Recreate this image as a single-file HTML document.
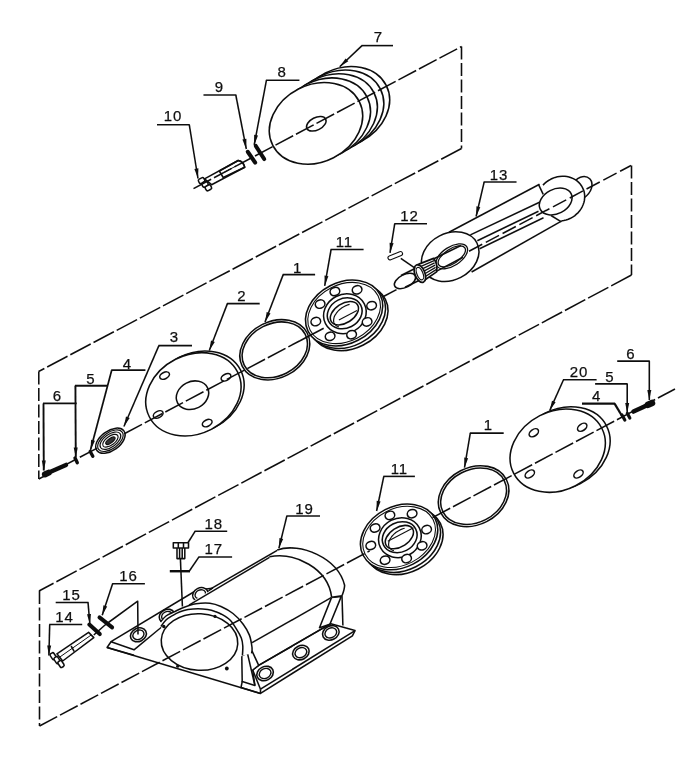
<!DOCTYPE html>
<html><head><meta charset="utf-8"><title>Exploded view</title>
<style>
html,body{margin:0;padding:0;background:#fff;}
body{width:694px;height:763px;overflow:hidden;font-family:"Liberation Sans",sans-serif;}
svg{display:block}
svg *{vector-effect:none}
</style></head><body>
<svg width="694" height="763" viewBox="0 0 694 763" font-family="Liberation Sans, sans-serif" stroke="#111" fill="none" stroke-linecap="butt" stroke-linejoin="round">
<defs><filter id="soft" x="0" y="0" width="100%" height="100%" filterUnits="userSpaceOnUse"><feGaussianBlur stdDeviation="0.45"/></filter></defs>
<rect x="0" y="0" width="694" height="763" fill="#fff" stroke="none"/>
<g filter="url(#soft)">
<ellipse cx="343.0" cy="107.4" rx="48.5" ry="38.6" transform="rotate(-27 343.0 107.4)" stroke-width="1.55" fill="#fff"/>
<ellipse cx="337.1" cy="110.9" rx="48.5" ry="38.6" transform="rotate(-27 337.1 110.9)" stroke-width="1.55" fill="#fff"/>
<ellipse cx="330.7" cy="114.7" rx="48.5" ry="38.6" transform="rotate(-27 330.7 114.7)" stroke-width="1.55" fill="#fff"/>
<ellipse cx="323.8" cy="118.8" rx="48.5" ry="38.6" transform="rotate(-27 323.8 118.8)" stroke-width="1.55" fill="#fff"/>
<ellipse cx="316.0" cy="123.4" rx="48.5" ry="38.6" transform="rotate(-27 316.0 123.4)" stroke-width="1.55" fill="#fff"/>
<ellipse cx="316.3" cy="123.8" rx="10.5" ry="6.2" transform="rotate(-27 316.3 123.8)" stroke-width="1.55" fill="none"/>
<line x1="247.8" y1="151.8" x2="255.2" y2="162.6" stroke-width="4.1" stroke-linecap="round"/>
<line x1="255.8" y1="146.0" x2="264.2" y2="159.0" stroke-width="4.1" stroke-linecap="round"/>
<path d="M204.5 178.9 L238.2 160.5 Q243.5 161.5 244.7 167.2 L211.6 184.7 Z" stroke-width="1.55" fill="#fff" />
<path d="M219.4 171.1 L238.2 160.5 Q243.5 161.5 244.7 167.2 L223.3 177.6 Z" stroke-width="1.7" fill="none" />
<line x1="224.0" y1="172.5" x2="236.0" y2="166.0" stroke-width="1.0" stroke-linecap="butt"/>
<rect x="198.6" y="178.2" width="6" height="4.8" rx="1.6" transform="rotate(-29 201.6 180.6)" fill="#fff" stroke-width="1.55"/>
<rect x="202.0" y="181.8" width="6" height="4.8" rx="1.6" transform="rotate(-29 205.0 184.2)" fill="#fff" stroke-width="1.55"/>
<rect x="205.4" y="185.4" width="6" height="4.8" rx="1.6" transform="rotate(-29 208.4 187.8)" fill="#fff" stroke-width="1.55"/>
<line x1="157.0" y1="124.8" x2="189.8" y2="124.8" stroke-width="1.55" stroke-linecap="butt"/>
<line x1="189.3" y1="124.8" x2="198.0" y2="178.5" stroke-width="1.55" stroke-linecap="butt"/>
<polygon points="198.0,178.5 194.4,168.9 198.4,168.3" fill="#111" stroke="none"/>
<text x="163.7" y="121.3" font-size="15" letter-spacing="0.9" stroke="#111" stroke-width="0.25" fill="#111">10</text>
<line x1="203.5" y1="95.0" x2="236.3" y2="95.0" stroke-width="1.55" stroke-linecap="butt"/>
<line x1="235.8" y1="95.0" x2="246.3" y2="149.0" stroke-width="1.55" stroke-linecap="butt"/>
<polygon points="246.3,149.0 242.4,139.6 246.4,138.8" fill="#111" stroke="none"/>
<text x="214.7" y="91.8" font-size="15" stroke="#111" stroke-width="0.25" fill="#111">9</text>
<line x1="265.9" y1="80.3" x2="299.4" y2="80.3" stroke-width="1.55" stroke-linecap="butt"/>
<line x1="266.4" y1="80.3" x2="254.2" y2="145.0" stroke-width="1.55" stroke-linecap="butt"/>
<polygon points="254.2,145.0 254.1,134.8 258.0,135.5" fill="#111" stroke="none"/>
<text x="277.5" y="77.3" font-size="15" stroke="#111" stroke-width="0.25" fill="#111">8</text>
<line x1="361.5" y1="45.6" x2="393.0" y2="45.6" stroke-width="1.55" stroke-linecap="butt"/>
<line x1="362.0" y1="45.6" x2="339.7" y2="66.7" stroke-width="1.55" stroke-linecap="butt"/>
<polygon points="339.7,66.7 345.6,58.4 348.3,61.3" fill="#111" stroke="none"/>
<text x="373.7" y="42.0" font-size="15" stroke="#111" stroke-width="0.25" fill="#111">7</text>
<ellipse cx="196.5" cy="392.6" rx="49.5" ry="39.3" transform="rotate(-27 196.5 392.6)" stroke-width="1.55" fill="#fff"/>
<ellipse cx="193.4" cy="394.3" rx="49.5" ry="39.3" transform="rotate(-27 193.4 394.3)" stroke-width="1.55" fill="#fff"/>
<ellipse cx="192.5" cy="395.2" rx="16.8" ry="13.6" transform="rotate(-27 192.5 395.2)" stroke-width="1.55" fill="none"/>
<ellipse cx="164.6" cy="375.6" rx="5.2" ry="3.2" transform="rotate(-27 164.6 375.6)" stroke-width="1.55" fill="none"/>
<ellipse cx="226.0" cy="377.3" rx="5.2" ry="3.2" transform="rotate(-27 226.0 377.3)" stroke-width="1.55" fill="none"/>
<ellipse cx="158.2" cy="414.5" rx="5.2" ry="3.2" transform="rotate(-27 158.2 414.5)" stroke-width="1.55" fill="none"/>
<ellipse cx="207.2" cy="423.1" rx="5.2" ry="3.2" transform="rotate(-27 207.2 423.1)" stroke-width="1.55" fill="none"/>
<ellipse cx="274.8" cy="349.8" rx="36.5" ry="28.2" transform="rotate(-27 274.8 349.8)" stroke-width="1.55" fill="none"/>
<ellipse cx="274.8" cy="349.8" rx="34.2" ry="26.0" transform="rotate(-27 274.8 349.8)" stroke-width="1.55" fill="none"/>
<ellipse cx="110.4" cy="440.7" rx="16.7" ry="9.8" transform="rotate(-36 110.4 440.7)" stroke-width="1.5" fill="#fff"/>
<ellipse cx="110.4" cy="440.7" rx="14.6" ry="8.1" transform="rotate(-36 110.4 440.7)" stroke-width="1.2" fill="#fff"/>
<ellipse cx="110.4" cy="440.7" rx="12.0" ry="6.3" transform="rotate(-36 110.4 440.7)" stroke-width="1.2" fill="#fff"/>
<ellipse cx="110.4" cy="440.7" rx="9.0" ry="4.4" transform="rotate(-36 110.4 440.7)" stroke-width="1.2" fill="#fff"/>
<ellipse cx="110.4" cy="440.7" rx="5.5" ry="2.2" transform="rotate(-36 110.4 440.7)" stroke-width="1.2" fill="#333"/>
<line x1="46.0" y1="473.8" x2="66.0" y2="464.9" stroke-width="4.4" stroke-linecap="round"/>
<line x1="45.0" y1="474.4" x2="48.5" y2="472.8" stroke-width="6.2" stroke-linecap="round"/>
<line x1="75.0" y1="458.0" x2="77.3" y2="462.8" stroke-width="3.4" stroke-linecap="round"/>
<line x1="90.2" y1="451.5" x2="92.8" y2="456.2" stroke-width="3.4" stroke-linecap="round"/>
<line x1="43.0" y1="403.4" x2="76.7" y2="403.4" stroke-width="1.9" stroke-linecap="butt"/>
<line x1="43.5" y1="403.4" x2="43.8" y2="470.5" stroke-width="1.9" stroke-linecap="butt"/>
<polygon points="43.8,470.5 41.8,460.5 45.8,460.5" fill="#111" stroke="none"/>
<text x="52.7" y="400.5" font-size="15" stroke="#111" stroke-width="0.25" fill="#111">6</text>
<line x1="74.9" y1="385.8" x2="107.8" y2="385.8" stroke-width="1.9" stroke-linecap="butt"/>
<line x1="75.4" y1="385.8" x2="75.8" y2="457.5" stroke-width="1.9" stroke-linecap="butt"/>
<polygon points="75.8,457.5 73.7,447.5 77.7,447.5" fill="#111" stroke="none"/>
<text x="86.2" y="384.3" font-size="15" stroke="#111" stroke-width="0.25" fill="#111">5</text>
<line x1="111.2" y1="370.2" x2="145.4" y2="370.2" stroke-width="1.7" stroke-linecap="butt"/>
<line x1="111.7" y1="370.2" x2="90.5" y2="450.0" stroke-width="1.7" stroke-linecap="butt"/>
<polygon points="90.5,450.0 91.1,439.8 95.0,440.8" fill="#111" stroke="none"/>
<text x="122.7" y="368.8" font-size="15" stroke="#111" stroke-width="0.25" fill="#111">4</text>
<line x1="158.4" y1="345.6" x2="192.0" y2="345.6" stroke-width="1.55" stroke-linecap="butt"/>
<line x1="158.9" y1="345.6" x2="123.9" y2="426.5" stroke-width="1.55" stroke-linecap="butt"/>
<polygon points="123.9,426.5 126.0,416.5 129.7,418.1" fill="#111" stroke="none"/>
<text x="169.7" y="342.3" font-size="15" stroke="#111" stroke-width="0.25" fill="#111">3</text>
<line x1="226.9" y1="303.6" x2="259.7" y2="303.6" stroke-width="1.55" stroke-linecap="butt"/>
<line x1="227.4" y1="303.6" x2="209.3" y2="350.5" stroke-width="1.55" stroke-linecap="butt"/>
<polygon points="209.3,350.5 211.0,340.5 214.8,341.9" fill="#111" stroke="none"/>
<text x="237.2" y="301.3" font-size="15" stroke="#111" stroke-width="0.25" fill="#111">2</text>
<line x1="282.7" y1="274.6" x2="315.1" y2="274.6" stroke-width="1.55" stroke-linecap="butt"/>
<line x1="283.2" y1="274.6" x2="265.0" y2="322.0" stroke-width="1.55" stroke-linecap="butt"/>
<polygon points="265.0,322.0 266.7,311.9 270.5,313.4" fill="#111" stroke="none"/>
<text x="293.0" y="272.6" font-size="15" stroke="#111" stroke-width="0.25" fill="#111">1</text>
<line x1="330.6" y1="249.5" x2="363.6" y2="249.5" stroke-width="1.55" stroke-linecap="butt"/>
<line x1="331.1" y1="249.5" x2="324.7" y2="285.8" stroke-width="1.55" stroke-linecap="butt"/>
<polygon points="324.7,285.8 324.5,275.6 328.4,276.3" fill="#111" stroke="none"/>
<text x="335.7" y="247.4" font-size="15" letter-spacing="0.9" stroke="#111" stroke-width="0.25" fill="#111">11</text>
<ellipse cx="349.4" cy="317.8" rx="40.4" ry="30.6" transform="rotate(-27 349.4 317.8)" stroke-width="1.55" fill="#fff"/>
<ellipse cx="346.9" cy="315.6" rx="40.4" ry="30.6" transform="rotate(-27 346.9 315.6)" stroke-width="1.55" fill="#fff"/>
<ellipse cx="344.1" cy="313.0" rx="40.4" ry="30.6" transform="rotate(-27 344.1 313.0)" stroke-width="1.55" fill="#fff"/>
<ellipse cx="344.1" cy="313.0" rx="38.1" ry="28.3" transform="rotate(-27 344.1 313.0)" stroke-width="1.1" fill="none"/>
<ellipse cx="344.9" cy="313.8" rx="21.8" ry="19.4" transform="rotate(-27 344.9 313.8)" stroke-width="1.55" fill="none"/>
<ellipse cx="344.7" cy="313.3" rx="18.0" ry="14.8" transform="rotate(-27 344.7 313.3)" stroke-width="1.55" fill="none"/>
<ellipse cx="344.4" cy="313.2" rx="15.6" ry="9.6" transform="rotate(-33 344.4 313.2)" stroke-width="1.55" fill="none"/>
<polyline points="338.9,326.8 338.2,326.6 337.6,326.3 337.0,326.1 336.4,325.7 335.9,325.3 335.4,324.9 335.0,324.4 334.6,323.9 334.3,323.4 334.0,322.8 333.8,322.2 333.7,321.6 333.6,320.9 333.6,320.3 333.7,319.5 333.8,318.8 333.9,318.1 334.1,317.3 334.4,316.6 334.7,315.8 335.1,315.1 335.6,314.3 336.1,313.6 336.6,312.8 337.2,312.1 337.8,311.4 338.5,310.7 339.2,310.0 340.0,309.3 340.8,308.7 341.6,308.1 342.4,307.5 343.3,307.0 344.2,306.5 345.1,306.0 346.0,305.6 346.9,305.2 347.8,304.9 348.7,304.6 349.6,304.4" stroke-width="1.2" fill="none"/>
<ellipse cx="334.9" cy="291.5" rx="4.9" ry="4.1" transform="rotate(-20 334.9 291.5)" stroke-width="1.55" fill="#fff"/>
<ellipse cx="357.1" cy="289.8" rx="4.9" ry="4.1" transform="rotate(-20 357.1 289.8)" stroke-width="1.55" fill="#fff"/>
<ellipse cx="320.1" cy="304.1" rx="4.9" ry="4.1" transform="rotate(-20 320.1 304.1)" stroke-width="1.55" fill="#fff"/>
<ellipse cx="371.6" cy="305.7" rx="4.9" ry="4.1" transform="rotate(-20 371.6 305.7)" stroke-width="1.55" fill="#fff"/>
<ellipse cx="315.8" cy="321.6" rx="4.9" ry="4.1" transform="rotate(-20 315.8 321.6)" stroke-width="1.55" fill="#fff"/>
<ellipse cx="367.1" cy="321.9" rx="4.9" ry="4.1" transform="rotate(-20 367.1 321.9)" stroke-width="1.55" fill="#fff"/>
<ellipse cx="330.1" cy="336.3" rx="4.9" ry="4.1" transform="rotate(-20 330.1 336.3)" stroke-width="1.55" fill="#fff"/>
<ellipse cx="351.6" cy="334.7" rx="4.9" ry="4.1" transform="rotate(-20 351.6 334.7)" stroke-width="1.55" fill="#fff"/>
<path d="M573 186 C575 177 585 174 590 179 C594 184 592 192 584 198" stroke-width="1.55" fill="#fff" />
<path d="M449 232.2 L539.5 184.3 L561.4 221.1 L471.6 272 Z" stroke-width="1.55" fill="#fff" stroke="none"/>
<ellipse cx="560.7" cy="198.7" rx="24.5" ry="21.9" transform="rotate(-27 560.7 198.7)" fill="#fff" stroke="none"/>
<polyline points="543.0,185.1 544.7,183.4 546.5,181.8 548.5,180.5 550.6,179.3 552.8,178.3 555.1,177.4 557.4,176.8 559.7,176.4 562.1,176.3 564.5,176.3 566.8,176.5 569.0,177.0 571.2,177.7 573.3,178.6 575.2,179.7 577.0,180.9 578.7,182.4 580.2,184.0 581.4,185.7 582.5,187.6 583.4,189.6 584.1,191.6 584.5,193.7 584.7,195.9 584.6,198.1 584.4,200.4 583.9,202.5 583.1,204.7 582.2,206.8 581.0,208.8 579.7,210.8 578.2,212.6 576.4,214.2 574.6,215.8 572.6,217.1 570.5,218.3 568.3,219.3 566.0,220.1 563.7,220.6 561.3,221.0" stroke-width="1.55" fill="none"/>
<ellipse cx="555.7" cy="201.5" rx="17.3" ry="12.2" transform="rotate(-27 555.7 201.5)" stroke-width="1.55" fill="none"/>
<line x1="449.0" y1="232.2" x2="539.5" y2="184.3" stroke-width="1.55" stroke-linecap="butt"/>
<line x1="471.6" y1="272.0" x2="561.4" y2="221.1" stroke-width="1.55" stroke-linecap="butt"/>
<line x1="470.4" y1="234.9" x2="539.5" y2="202.2" stroke-width="1.55" stroke-linecap="butt"/>
<line x1="477.3" y1="240.7" x2="538.5" y2="211.3" stroke-width="1.55" stroke-linecap="butt"/>
<line x1="479.6" y1="248.8" x2="543.5" y2="217.8" stroke-width="1.55" stroke-linecap="butt"/>
<line x1="538.6" y1="184.6" x2="543.2" y2="194.3" stroke-width="1.55" stroke-linecap="butt"/>
<line x1="551.0" y1="215.5" x2="561.4" y2="221.8" stroke-width="1.55" stroke-linecap="butt"/>
<ellipse cx="450.2" cy="256.6" rx="30.0" ry="23.3" transform="rotate(-27 450.2 256.6)" stroke-width="1.55" fill="#fff"/>
<ellipse cx="451.8" cy="256.3" rx="17.8" ry="9.4" transform="rotate(-33 451.8 256.3)" stroke-width="1.3" fill="none"/>
<ellipse cx="451.8" cy="256.3" rx="15.6" ry="7.3" transform="rotate(-33 451.8 256.3)" stroke-width="1.3" fill="none"/>
<line x1="431.9" y1="259.8" x2="461.0" y2="245.5" stroke-width="1.55" stroke-linecap="butt"/>
<line x1="435.3" y1="271.9" x2="463.0" y2="257.2" stroke-width="1.55" stroke-linecap="butt"/>
<ellipse cx="405.0" cy="281.0" rx="11.5" ry="6.3" transform="rotate(-27 405.0 281.0)" stroke-width="1.55" fill="#fff"/>
<line x1="405.0" y1="287.2" x2="421.0" y2="279.5" stroke-width="1.55" stroke-linecap="butt"/>
<line x1="401.0" y1="275.5" x2="416.0" y2="268.0" stroke-width="1.55" stroke-linecap="butt"/>
<path d="M418.9 264.1 L433.6 258.4 Q438 264 436.6 271.9 L421.5 282.2 Z" stroke-width="1.7" fill="#fff" />
<line x1="419.3" y1="267.1" x2="434.1" y2="260.6" stroke-width="1.25" stroke-linecap="butt"/>
<line x1="419.8" y1="270.1" x2="434.6" y2="262.9" stroke-width="1.25" stroke-linecap="butt"/>
<line x1="420.2" y1="273.1" x2="435.1" y2="265.1" stroke-width="1.25" stroke-linecap="butt"/>
<line x1="420.6" y1="276.2" x2="435.6" y2="267.4" stroke-width="1.25" stroke-linecap="butt"/>
<line x1="421.1" y1="279.2" x2="436.1" y2="269.6" stroke-width="1.25" stroke-linecap="butt"/>
<ellipse cx="419.9" cy="273.6" rx="9.3" ry="5.0" transform="rotate(68 419.9 273.6)" stroke-width="1.8" fill="#fff"/>
<ellipse cx="419.9" cy="273.6" rx="6.6" ry="3.0" transform="rotate(68 419.9 273.6)" stroke-width="1.2" fill="none"/>
<line x1="390.0" y1="257.8" x2="400.5" y2="253.6" stroke-width="5.2" stroke-linecap="round"/>
<line x1="390" y1="257.8" x2="400.5" y2="253.6" stroke="#fff" stroke-width="3" stroke-linecap="round"/>
<line x1="400.8" y1="258.4" x2="415.4" y2="268.4" stroke-width="1.55" stroke-linecap="butt"/>
<line x1="394.2" y1="223.8" x2="427.0" y2="223.8" stroke-width="1.55" stroke-linecap="butt"/>
<line x1="394.7" y1="223.8" x2="390.0" y2="252.9" stroke-width="1.55" stroke-linecap="butt"/>
<polygon points="390.0,252.9 389.6,242.7 393.6,243.3" fill="#111" stroke="none"/>
<text x="400.2" y="221.0" font-size="15" letter-spacing="0.9" stroke="#111" stroke-width="0.25" fill="#111">12</text>
<line x1="483.7" y1="181.9" x2="516.5" y2="181.9" stroke-width="1.55" stroke-linecap="butt"/>
<line x1="484.2" y1="181.9" x2="476.1" y2="216.5" stroke-width="1.55" stroke-linecap="butt"/>
<polygon points="476.1,216.5 476.4,206.3 480.3,207.2" fill="#111" stroke="none"/>
<text x="489.7" y="179.6" font-size="15" letter-spacing="0.9" stroke="#111" stroke-width="0.25" fill="#111">13</text>
<ellipse cx="562.5" cy="448.5" rx="49.5" ry="39.3" transform="rotate(-27 562.5 448.5)" stroke-width="1.55" fill="#fff"/>
<ellipse cx="557.7" cy="450.7" rx="49.5" ry="39.3" transform="rotate(-27 557.7 450.7)" stroke-width="1.55" fill="#fff"/>
<ellipse cx="533.8" cy="432.8" rx="5.2" ry="3.3" transform="rotate(-35 533.8 432.8)" stroke-width="1.55" fill="none"/>
<ellipse cx="582.2" cy="427.3" rx="5.2" ry="3.3" transform="rotate(-35 582.2 427.3)" stroke-width="1.55" fill="none"/>
<ellipse cx="529.8" cy="474.0" rx="5.2" ry="3.3" transform="rotate(-35 529.8 474.0)" stroke-width="1.55" fill="none"/>
<ellipse cx="578.5" cy="474.0" rx="5.2" ry="3.3" transform="rotate(-35 578.5 474.0)" stroke-width="1.55" fill="none"/>
<ellipse cx="473.6" cy="496.2" rx="36.8" ry="28.6" transform="rotate(-27 473.6 496.2)" stroke-width="1.55" fill="none"/>
<ellipse cx="473.6" cy="496.2" rx="34.4" ry="26.3" transform="rotate(-27 473.6 496.2)" stroke-width="1.55" fill="none"/>
<ellipse cx="404.4" cy="541.7" rx="40.4" ry="30.6" transform="rotate(-27 404.4 541.7)" stroke-width="1.55" fill="#fff"/>
<ellipse cx="401.9" cy="539.5" rx="40.4" ry="30.6" transform="rotate(-27 401.9 539.5)" stroke-width="1.55" fill="#fff"/>
<ellipse cx="399.1" cy="536.9" rx="40.4" ry="30.6" transform="rotate(-27 399.1 536.9)" stroke-width="1.55" fill="#fff"/>
<ellipse cx="399.1" cy="536.9" rx="38.1" ry="28.3" transform="rotate(-27 399.1 536.9)" stroke-width="1.1" fill="none"/>
<ellipse cx="399.9" cy="537.7" rx="21.8" ry="19.4" transform="rotate(-27 399.9 537.7)" stroke-width="1.55" fill="none"/>
<ellipse cx="399.7" cy="537.2" rx="18.0" ry="14.8" transform="rotate(-27 399.7 537.2)" stroke-width="1.55" fill="none"/>
<ellipse cx="399.4" cy="537.1" rx="15.6" ry="9.6" transform="rotate(-33 399.4 537.1)" stroke-width="1.55" fill="none"/>
<polyline points="393.9,550.7 393.2,550.5 392.6,550.2 392.0,550.0 391.4,549.6 390.9,549.2 390.4,548.8 390.0,548.3 389.6,547.8 389.3,547.3 389.0,546.7 388.8,546.1 388.7,545.5 388.6,544.8 388.6,544.2 388.7,543.4 388.8,542.7 388.9,542.0 389.1,541.2 389.4,540.5 389.7,539.7 390.1,539.0 390.6,538.2 391.1,537.5 391.6,536.7 392.2,536.0 392.8,535.3 393.5,534.6 394.2,533.9 395.0,533.2 395.8,532.6 396.6,532.0 397.4,531.4 398.3,530.9 399.2,530.4 400.1,529.9 401.0,529.5 401.9,529.1 402.8,528.8 403.7,528.5 404.6,528.3" stroke-width="1.2" fill="none"/>
<ellipse cx="389.9" cy="515.4" rx="4.9" ry="4.1" transform="rotate(-20 389.9 515.4)" stroke-width="1.55" fill="#fff"/>
<ellipse cx="412.1" cy="513.7" rx="4.9" ry="4.1" transform="rotate(-20 412.1 513.7)" stroke-width="1.55" fill="#fff"/>
<ellipse cx="375.1" cy="528.0" rx="4.9" ry="4.1" transform="rotate(-20 375.1 528.0)" stroke-width="1.55" fill="#fff"/>
<ellipse cx="426.6" cy="529.6" rx="4.9" ry="4.1" transform="rotate(-20 426.6 529.6)" stroke-width="1.55" fill="#fff"/>
<ellipse cx="370.8" cy="545.5" rx="4.9" ry="4.1" transform="rotate(-20 370.8 545.5)" stroke-width="1.55" fill="#fff"/>
<ellipse cx="422.1" cy="545.8" rx="4.9" ry="4.1" transform="rotate(-20 422.1 545.8)" stroke-width="1.55" fill="#fff"/>
<ellipse cx="385.1" cy="560.2" rx="4.9" ry="4.1" transform="rotate(-20 385.1 560.2)" stroke-width="1.55" fill="#fff"/>
<ellipse cx="406.6" cy="558.6" rx="4.9" ry="4.1" transform="rotate(-20 406.6 558.6)" stroke-width="1.55" fill="#fff"/>
<line x1="633.5" y1="411.5" x2="651.0" y2="403.5" stroke-width="4.6" stroke-linecap="round"/>
<line x1="648.0" y1="404.8" x2="652.0" y2="403.0" stroke-width="6.5" stroke-linecap="round"/>
<line x1="622.0" y1="415.0" x2="624.8" y2="420.0" stroke-width="3.2" stroke-linecap="round"/>
<line x1="627.3" y1="413.3" x2="629.8" y2="418.0" stroke-width="3.2" stroke-linecap="round"/>
<line x1="563.0" y1="379.8" x2="596.6" y2="379.8" stroke-width="1.55" stroke-linecap="butt"/>
<line x1="563.5" y1="379.8" x2="549.7" y2="410.6" stroke-width="1.55" stroke-linecap="butt"/>
<polygon points="549.7,410.6 552.0,400.7 555.6,402.3" fill="#111" stroke="none"/>
<text x="569.7" y="377.3" font-size="15" letter-spacing="0.9" stroke="#111" stroke-width="0.25" fill="#111">20</text>
<line x1="595.1" y1="383.9" x2="627.7" y2="383.9" stroke-width="1.6" stroke-linecap="butt"/>
<line x1="627.2" y1="383.9" x2="627.2" y2="413.0" stroke-width="1.6" stroke-linecap="butt"/>
<polygon points="627.2,413.0 625.2,403.0 629.2,403.0" fill="#111" stroke="none"/>
<text x="605.2" y="381.6" font-size="15" stroke="#111" stroke-width="0.25" fill="#111">5</text>
<line x1="582.0" y1="403.6" x2="615.1" y2="403.6" stroke-width="2.2" stroke-linecap="butt"/>
<line x1="614.6" y1="403.6" x2="622.6" y2="417.0" stroke-width="2.2" stroke-linecap="butt"/>
<text x="592.0" y="401.2" font-size="15" stroke="#111" stroke-width="0.25" fill="#111">4</text>
<line x1="617.2" y1="361.1" x2="649.8" y2="361.1" stroke-width="1.6" stroke-linecap="butt"/>
<line x1="649.3" y1="361.1" x2="649.3" y2="400.0" stroke-width="1.6" stroke-linecap="butt"/>
<polygon points="649.3,400.0 647.3,390.0 651.3,390.0" fill="#111" stroke="none"/>
<text x="626.3" y="358.6" font-size="15" stroke="#111" stroke-width="0.25" fill="#111">6</text>
<line x1="469.8" y1="433.1" x2="503.7" y2="433.1" stroke-width="1.55" stroke-linecap="butt"/>
<line x1="470.3" y1="433.1" x2="464.5" y2="467.7" stroke-width="1.55" stroke-linecap="butt"/>
<polygon points="464.5,467.7 464.2,457.5 468.1,458.2" fill="#111" stroke="none"/>
<text x="483.7" y="430.2" font-size="15" stroke="#111" stroke-width="0.25" fill="#111">1</text>
<line x1="383.3" y1="476.4" x2="414.9" y2="476.4" stroke-width="1.55" stroke-linecap="butt"/>
<line x1="383.8" y1="476.4" x2="376.6" y2="511.0" stroke-width="1.55" stroke-linecap="butt"/>
<polygon points="376.6,511.0 376.7,500.8 380.6,501.6" fill="#111" stroke="none"/>
<text x="390.7" y="474.3" font-size="15" letter-spacing="0.9" stroke="#111" stroke-width="0.25" fill="#111">11</text>
<path d="M111 641.7 L197 590 L212.5 588.3 L189 605.2 L158 630 L134 649.8 Z" stroke-width="1.55" fill="#fff" />
<path d="M111 641.7 L107.1 647.5 L134 655.2" stroke-width="1.55" fill="none" />
<ellipse cx="200.3" cy="594.3" rx="8.0" ry="6.4" transform="rotate(-27 200.3 594.3)" stroke-width="1.6" fill="#fff"/>
<ellipse cx="200.3" cy="594.3" rx="5.5" ry="4.3" transform="rotate(-27 200.3 594.3)" stroke-width="1.4" fill="none"/>
<ellipse cx="166.9" cy="616.0" rx="8.0" ry="6.4" transform="rotate(-27 166.9 616.0)" stroke-width="1.6" fill="#fff"/>
<ellipse cx="166.9" cy="616.0" rx="5.5" ry="4.3" transform="rotate(-27 166.9 616.0)" stroke-width="1.4" fill="none"/>
<ellipse cx="138.4" cy="634.8" rx="8.3" ry="6.6" transform="rotate(-27 138.4 634.8)" stroke-width="1.6" fill="#fff"/>
<ellipse cx="138.4" cy="634.8" rx="5.8" ry="4.5" transform="rotate(-27 138.4 634.8)" stroke-width="1.4" fill="none"/>
<path d="M252.7 670 L258.7 665.3 L330.8 623.7 L355 630.6 L352.4 635.8 L260.5 693.4 L241 687.6 L242.2 681.6 Z" stroke-width="1.55" fill="#fff" />
<line x1="260.5" y1="689.2" x2="355.0" y2="630.6" stroke-width="1.55" stroke-linecap="butt"/>
<line x1="252.7" y1="670.0" x2="260.5" y2="689.2" stroke-width="1.55" stroke-linecap="butt"/>
<line x1="260.5" y1="689.2" x2="260.5" y2="693.4" stroke-width="1.55" stroke-linecap="butt"/>
<path d="M331.6 597.4 L319.5 627.7 L329.9 624.2 L341.2 596.6 Z" stroke-width="1.55" fill="#fff" />
<line x1="342.0" y1="595.7" x2="342.9" y2="625.5" stroke-width="1.55" stroke-linecap="butt"/>
<path d="M183 607 L277.2 550.4 C300 541 340 560 344.6 585.3 L342 595.7 L331.6 597.4 L252.1 642.7 L240 620 Z" stroke-width="1.55" fill="#fff" stroke="none"/>
<path d="M277.2 549.9 C300 542 338 558 344.6 585.3 C344.6 589 343.5 592 342 595.7" stroke-width="1.55" fill="none" />
<path d="M269.4 556.8 C295 552 328 568 331.6 597" stroke-width="1.55" fill="none" />
<line x1="331.6" y1="597.2" x2="342.0" y2="595.7" stroke-width="1.55" stroke-linecap="butt"/>
<line x1="211.1" y1="588.6" x2="277.2" y2="550.4" stroke-width="1.55" stroke-linecap="butt"/>
<line x1="189.0" y1="605.2" x2="269.5" y2="557.3" stroke-width="1.55" stroke-linecap="butt"/>
<line x1="252.1" y1="642.7" x2="331.6" y2="597.4" stroke-width="1.55" stroke-linecap="butt"/>
<line x1="259.0" y1="665.2" x2="330.8" y2="623.7" stroke-width="1.55" stroke-linecap="butt"/>
<ellipse cx="265.1" cy="673.5" rx="8.6" ry="6.9" transform="rotate(-27 265.1 673.5)" stroke-width="1.6" fill="#fff"/>
<ellipse cx="265.1" cy="673.5" rx="6.1" ry="4.8" transform="rotate(-27 265.1 673.5)" stroke-width="1.4" fill="none"/>
<ellipse cx="300.9" cy="652.6" rx="8.6" ry="6.9" transform="rotate(-27 300.9 652.6)" stroke-width="1.6" fill="#fff"/>
<ellipse cx="300.9" cy="652.6" rx="6.1" ry="4.8" transform="rotate(-27 300.9 652.6)" stroke-width="1.4" fill="none"/>
<ellipse cx="330.8" cy="632.9" rx="8.6" ry="6.9" transform="rotate(-27 330.8 632.9)" stroke-width="1.6" fill="#fff"/>
<ellipse cx="330.8" cy="632.9" rx="6.1" ry="4.8" transform="rotate(-27 330.8 632.9)" stroke-width="1.4" fill="none"/>
<path d="M241.8 655.9 L247.4 653.1 L252.1 651.2 L258.7 665.3 L252.7 670 L254.9 685.5 L242.2 681.6 Z" stroke-width="1.55" fill="#fff" />
<line x1="247.4" y1="653.1" x2="254.9" y2="685.5" stroke-width="1.55" stroke-linecap="butt"/>
<path d="M160.5 622.0 C161.4 621.0 163.7 617.7 166.0 616.0 C168.3 614.3 171.5 613.2 174.2 611.9 C176.9 610.5 178.7 609.2 182.3 607.9 C186.0 606.5 191.5 604.6 196.1 603.8 C200.7 603.0 205.8 602.8 209.9 603.2 C214.1 603.7 217.2 604.8 221.0 606.5 C224.8 608.2 229.3 610.6 233.0 613.5 C236.7 616.4 240.3 620.4 243.0 624.0 C245.7 627.6 247.9 631.2 249.4 635.1 C250.9 639.0 251.6 644.3 252.0 647.3 C252.4 650.3 251.7 652.3 251.6 653.3" stroke-width="1.55" fill="none" visibility="hidden"/>
<path d="M161.0 626.5 C161.8 625.4 164.0 621.9 166.0 620.0 C168.0 618.1 170.7 616.7 173.0 615.3 C175.3 613.9 177.5 612.8 180.0 611.8 C182.5 610.8 185.0 610.1 188.0 609.6 C191.0 609.1 194.7 608.7 198.0 608.7 C201.3 608.7 204.8 609.1 207.6 609.6 C210.4 610.1 212.7 610.7 215.0 611.5 C217.3 612.3 219.0 612.8 221.5 614.2 C224.0 615.6 227.5 617.5 230.0 620.0 C232.5 622.5 234.6 626.1 236.5 629.1 C238.4 632.1 240.2 635.2 241.3 638.0 C242.4 640.8 242.6 643.1 242.8 646.0 C243.0 648.9 242.5 653.9 242.4 655.5" stroke-width="1.55" fill="none" visibility="hidden"/>
<path d="M160.5 622.0 C161.4 621.0 163.7 617.7 166.0 616.0 C168.3 614.3 171.5 613.2 174.2 611.9 C176.9 610.5 178.7 609.2 182.3 607.9 C186.0 606.5 191.5 604.6 196.1 603.8 C200.7 603.0 205.8 602.8 209.9 603.2 C214.1 603.7 217.2 604.8 221.0 606.5 C224.8 608.2 229.3 610.6 233.0 613.5 C236.7 616.4 240.3 620.4 243.0 624.0 C245.7 627.6 247.9 631.2 249.4 635.1 C250.9 639.0 251.6 644.3 252.0 647.3 C252.4 650.3 251.7 652.3 251.6 653.3 L242 656 L200 672 L163 640 Z" stroke-width="1.55" fill="#fff" stroke="none"/>
<path d="M161.0 626.5 C161.8 625.4 164.0 621.9 166.0 620.0 C168.0 618.1 170.7 616.7 173.0 615.3 C175.3 613.9 177.5 612.8 180.0 611.8 C182.5 610.8 185.0 610.1 188.0 609.6 C191.0 609.1 194.7 608.7 198.0 608.7 C201.3 608.7 204.8 609.1 207.6 609.6 C210.4 610.1 212.7 610.7 215.0 611.5 C217.3 612.3 219.0 612.8 221.5 614.2 C224.0 615.6 227.5 617.5 230.0 620.0 C232.5 622.5 234.6 626.1 236.5 629.1 C238.4 632.1 240.2 635.2 241.3 638.0 C242.4 640.8 242.6 643.1 242.8 646.0 C243.0 648.9 242.5 653.9 242.4 655.5 Z" stroke-width="1.55" fill="#fff" stroke="none"/>
<path d="M160.5 622.0 C161.4 621.0 163.7 617.7 166.0 616.0 C168.3 614.3 171.5 613.2 174.2 611.9 C176.9 610.5 178.7 609.2 182.3 607.9 C186.0 606.5 191.5 604.6 196.1 603.8 C200.7 603.0 205.8 602.8 209.9 603.2 C214.1 603.7 217.2 604.8 221.0 606.5 C224.8 608.2 229.3 610.6 233.0 613.5 C236.7 616.4 240.3 620.4 243.0 624.0 C245.7 627.6 247.9 631.2 249.4 635.1 C250.9 639.0 251.6 644.3 252.0 647.3 C252.4 650.3 251.7 652.3 251.6 653.3" stroke-width="1.55" fill="none" />
<path d="M161.0 626.5 C161.8 625.4 164.0 621.9 166.0 620.0 C168.0 618.1 170.7 616.7 173.0 615.3 C175.3 613.9 177.5 612.8 180.0 611.8 C182.5 610.8 185.0 610.1 188.0 609.6 C191.0 609.1 194.7 608.7 198.0 608.7 C201.3 608.7 204.8 609.1 207.6 609.6 C210.4 610.1 212.7 610.7 215.0 611.5 C217.3 612.3 219.0 612.8 221.5 614.2 C224.0 615.6 227.5 617.5 230.0 620.0 C232.5 622.5 234.6 626.1 236.5 629.1 C238.4 632.1 240.2 635.2 241.3 638.0 C242.4 640.8 242.6 643.1 242.8 646.0 C243.0 648.9 242.5 653.9 242.4 655.5" stroke-width="1.55" fill="none" />
<ellipse cx="199.5" cy="642.0" rx="38.3" ry="28.3" transform="rotate(3 199.5 642.0)" stroke-width="1.55" fill="#fff"/>
<circle cx="163.8" cy="626.5" r="1.7" fill="#111" stroke="none"/>
<circle cx="215" cy="616.4" r="1.6" fill="#111" stroke="none"/>
<circle cx="226.8" cy="668.5" r="1.9" fill="#111" stroke="none"/>
<circle cx="177.7" cy="666.2" r="1.6" fill="#111" stroke="none"/>
<line x1="107.1" y1="647.5" x2="260.5" y2="693.4" stroke-width="1.55" stroke-linecap="butt"/>
<line x1="93.8" y1="635.0" x2="105.0" y2="625.0" stroke-width="1.55" stroke-linecap="butt"/>
<line x1="89.3" y1="624.5" x2="99.8" y2="634.1" stroke-width="4" stroke-linecap="round"/>
<line x1="99.5" y1="617.4" x2="112.1" y2="627.4" stroke-width="4" stroke-linecap="round"/>
<path d="M56.9 653.8 L88.6 632.4 L93.8 637.6 L62.7 661 Z" stroke-width="1.55" fill="#fff" />
<line x1="59.6" y1="657.2" x2="91.2" y2="635.0" stroke-width="1.0" stroke-linecap="butt"/>
<line x1="71.1" y1="646.0" x2="74.3" y2="651.6" stroke-width="1.55" stroke-linecap="butt"/>
<rect x="51.0" y="652.8" width="4.4" height="6.8" rx="1.6" transform="rotate(-34 53.2 656.2)" fill="#fff" stroke-width="1.55"/>
<rect x="54.9" y="656.7" width="4.4" height="6.8" rx="1.6" transform="rotate(-34 57.1 660.1)" fill="#fff" stroke-width="1.55"/>
<rect x="58.8" y="660.6" width="4.4" height="6.8" rx="1.6" transform="rotate(-34 61.0 664.0)" fill="#fff" stroke-width="1.55"/>
<polyline points="105.0,625.0 137.7,601.2 138.0,634.6" stroke-width="1.55" fill="none"/>
<line x1="49.2" y1="624.4" x2="82.2" y2="624.4" stroke-width="1.55" stroke-linecap="butt"/>
<line x1="49.7" y1="624.4" x2="48.9" y2="655.5" stroke-width="1.55" stroke-linecap="butt"/>
<polygon points="48.9,655.5 47.2,645.5 51.2,645.6" fill="#111" stroke="none"/>
<text x="55.2" y="621.6" font-size="15" letter-spacing="0.9" stroke="#111" stroke-width="0.25" fill="#111">14</text>
<line x1="55.7" y1="602.4" x2="88.5" y2="602.4" stroke-width="1.55" stroke-linecap="butt"/>
<line x1="88.0" y1="602.4" x2="89.9" y2="624.0" stroke-width="1.55" stroke-linecap="butt"/>
<polygon points="89.9,624.0 87.0,614.2 91.0,613.9" fill="#111" stroke="none"/>
<text x="62.2" y="599.6" font-size="15" letter-spacing="0.9" stroke="#111" stroke-width="0.25" fill="#111">15</text>
<line x1="112.1" y1="583.7" x2="144.9" y2="583.7" stroke-width="1.55" stroke-linecap="butt"/>
<line x1="112.6" y1="583.7" x2="102.2" y2="615.3" stroke-width="1.55" stroke-linecap="butt"/>
<polygon points="102.2,615.3 103.4,605.2 107.2,606.4" fill="#111" stroke="none"/>
<text x="119.2" y="581.2" font-size="15" letter-spacing="0.9" stroke="#111" stroke-width="0.25" fill="#111">16</text>
<line x1="180.4" y1="558.6" x2="182.4" y2="606.5" stroke-width="1.55" stroke-linecap="butt"/>
<line x1="169.8" y1="571.2" x2="190.0" y2="571.2" stroke-width="2.4" stroke-linecap="butt"/>
<line x1="198.5" y1="556.9" x2="232.1" y2="556.9" stroke-width="1.55" stroke-linecap="butt"/>
<line x1="199.0" y1="556.9" x2="189.5" y2="570.7" stroke-width="1.55" stroke-linecap="butt"/>
<text x="204.5" y="554.0" font-size="15" letter-spacing="0.9" stroke="#111" stroke-width="0.25" fill="#111">17</text>
<line x1="194.7" y1="531.2" x2="227.2" y2="531.2" stroke-width="1.55" stroke-linecap="butt"/>
<line x1="195.2" y1="531.2" x2="187.8" y2="543.0" stroke-width="1.55" stroke-linecap="butt"/>
<text x="204.5" y="528.9" font-size="15" letter-spacing="0.9" stroke="#111" stroke-width="0.25" fill="#111">18</text>
<path d="M173.3 542.8 L188.5 542.8 L188.5 548 L173.3 548 Z M177 548 L177 558.6 L184.8 558.6 L184.8 548 M178.3 542.8 L178.3 548 M183.5 542.8 L183.5 548 M179.6 548 L179.6 558.6 M182.2 548 L182.2 558.6" stroke-width="1.55" fill="#fff" />
<line x1="286.4" y1="515.9" x2="320.0" y2="515.9" stroke-width="1.55" stroke-linecap="butt"/>
<line x1="286.9" y1="515.9" x2="278.9" y2="548.2" stroke-width="1.55" stroke-linecap="butt"/>
<polygon points="278.9,548.2 279.4,538.0 283.2,539.0" fill="#111" stroke="none"/>
<text x="295.2" y="514.3" font-size="15" letter-spacing="0.9" stroke="#111" stroke-width="0.25" fill="#111">19</text>
<line x1="193.5" y1="188.6" x2="461.5" y2="46.5" stroke-width="1.55" stroke-dasharray="20 3.2" stroke-linecap="butt"/>
<line x1="461.5" y1="46.5" x2="461.5" y2="148.5" stroke-width="1.55" stroke-dasharray="13 3.5" stroke-linecap="butt"/>
<line x1="461.5" y1="148.5" x2="38.6" y2="371.5" stroke-width="1.55" stroke-dasharray="23 3.2" stroke-linecap="butt"/>
<line x1="38.8" y1="371.5" x2="38.8" y2="479.0" stroke-width="1.55" stroke-dasharray="13 3.5" stroke-linecap="butt"/>
<line x1="38.8" y1="479.0" x2="97.2" y2="448.1" stroke-width="1.55" stroke-dasharray="20 3.2" stroke-linecap="butt"/>
<line x1="124.3" y1="433.7" x2="300.0" y2="340.7" stroke-width="1.55" stroke-dasharray="20 3.2" stroke-linecap="butt"/>
<line x1="300.0" y1="340.7" x2="323.7" y2="328.2" stroke-width="1.55" stroke-linecap="butt"/>
<line x1="338.9" y1="320.1" x2="357.0" y2="310.6" stroke-width="1.1" stroke-linecap="butt"/>
<line x1="383.5" y1="296.5" x2="396.5" y2="289.6" stroke-width="1.55" stroke-linecap="butt"/>
<line x1="469.0" y1="251.3" x2="631.0" y2="165.5" stroke-width="1.55" stroke-dasharray="15 4" stroke-linecap="butt"/>
<line x1="631.5" y1="165.5" x2="631.5" y2="275.0" stroke-width="1.55" stroke-dasharray="13 3.5" stroke-linecap="butt"/>
<line x1="631.5" y1="275.0" x2="39.0" y2="591.0" stroke-width="1.55" stroke-dasharray="23 3.2" stroke-linecap="butt"/>
<line x1="39.5" y1="591.0" x2="39.5" y2="726.0" stroke-width="1.55" stroke-dasharray="13 3.5" stroke-linecap="butt"/>
<line x1="39.5" y1="726.0" x2="369.7" y2="550.9" stroke-width="1.55" stroke-dasharray="20 3.2" stroke-linecap="butt"/>
<line x1="387.8" y1="541.3" x2="413.5" y2="527.7" stroke-width="1.1" stroke-linecap="butt"/>
<line x1="432.5" y1="517.6" x2="675.0" y2="389.0" stroke-width="1.55" stroke-dasharray="20 3.2" stroke-linecap="butt"/>
</g>
</svg>
</body></html>
